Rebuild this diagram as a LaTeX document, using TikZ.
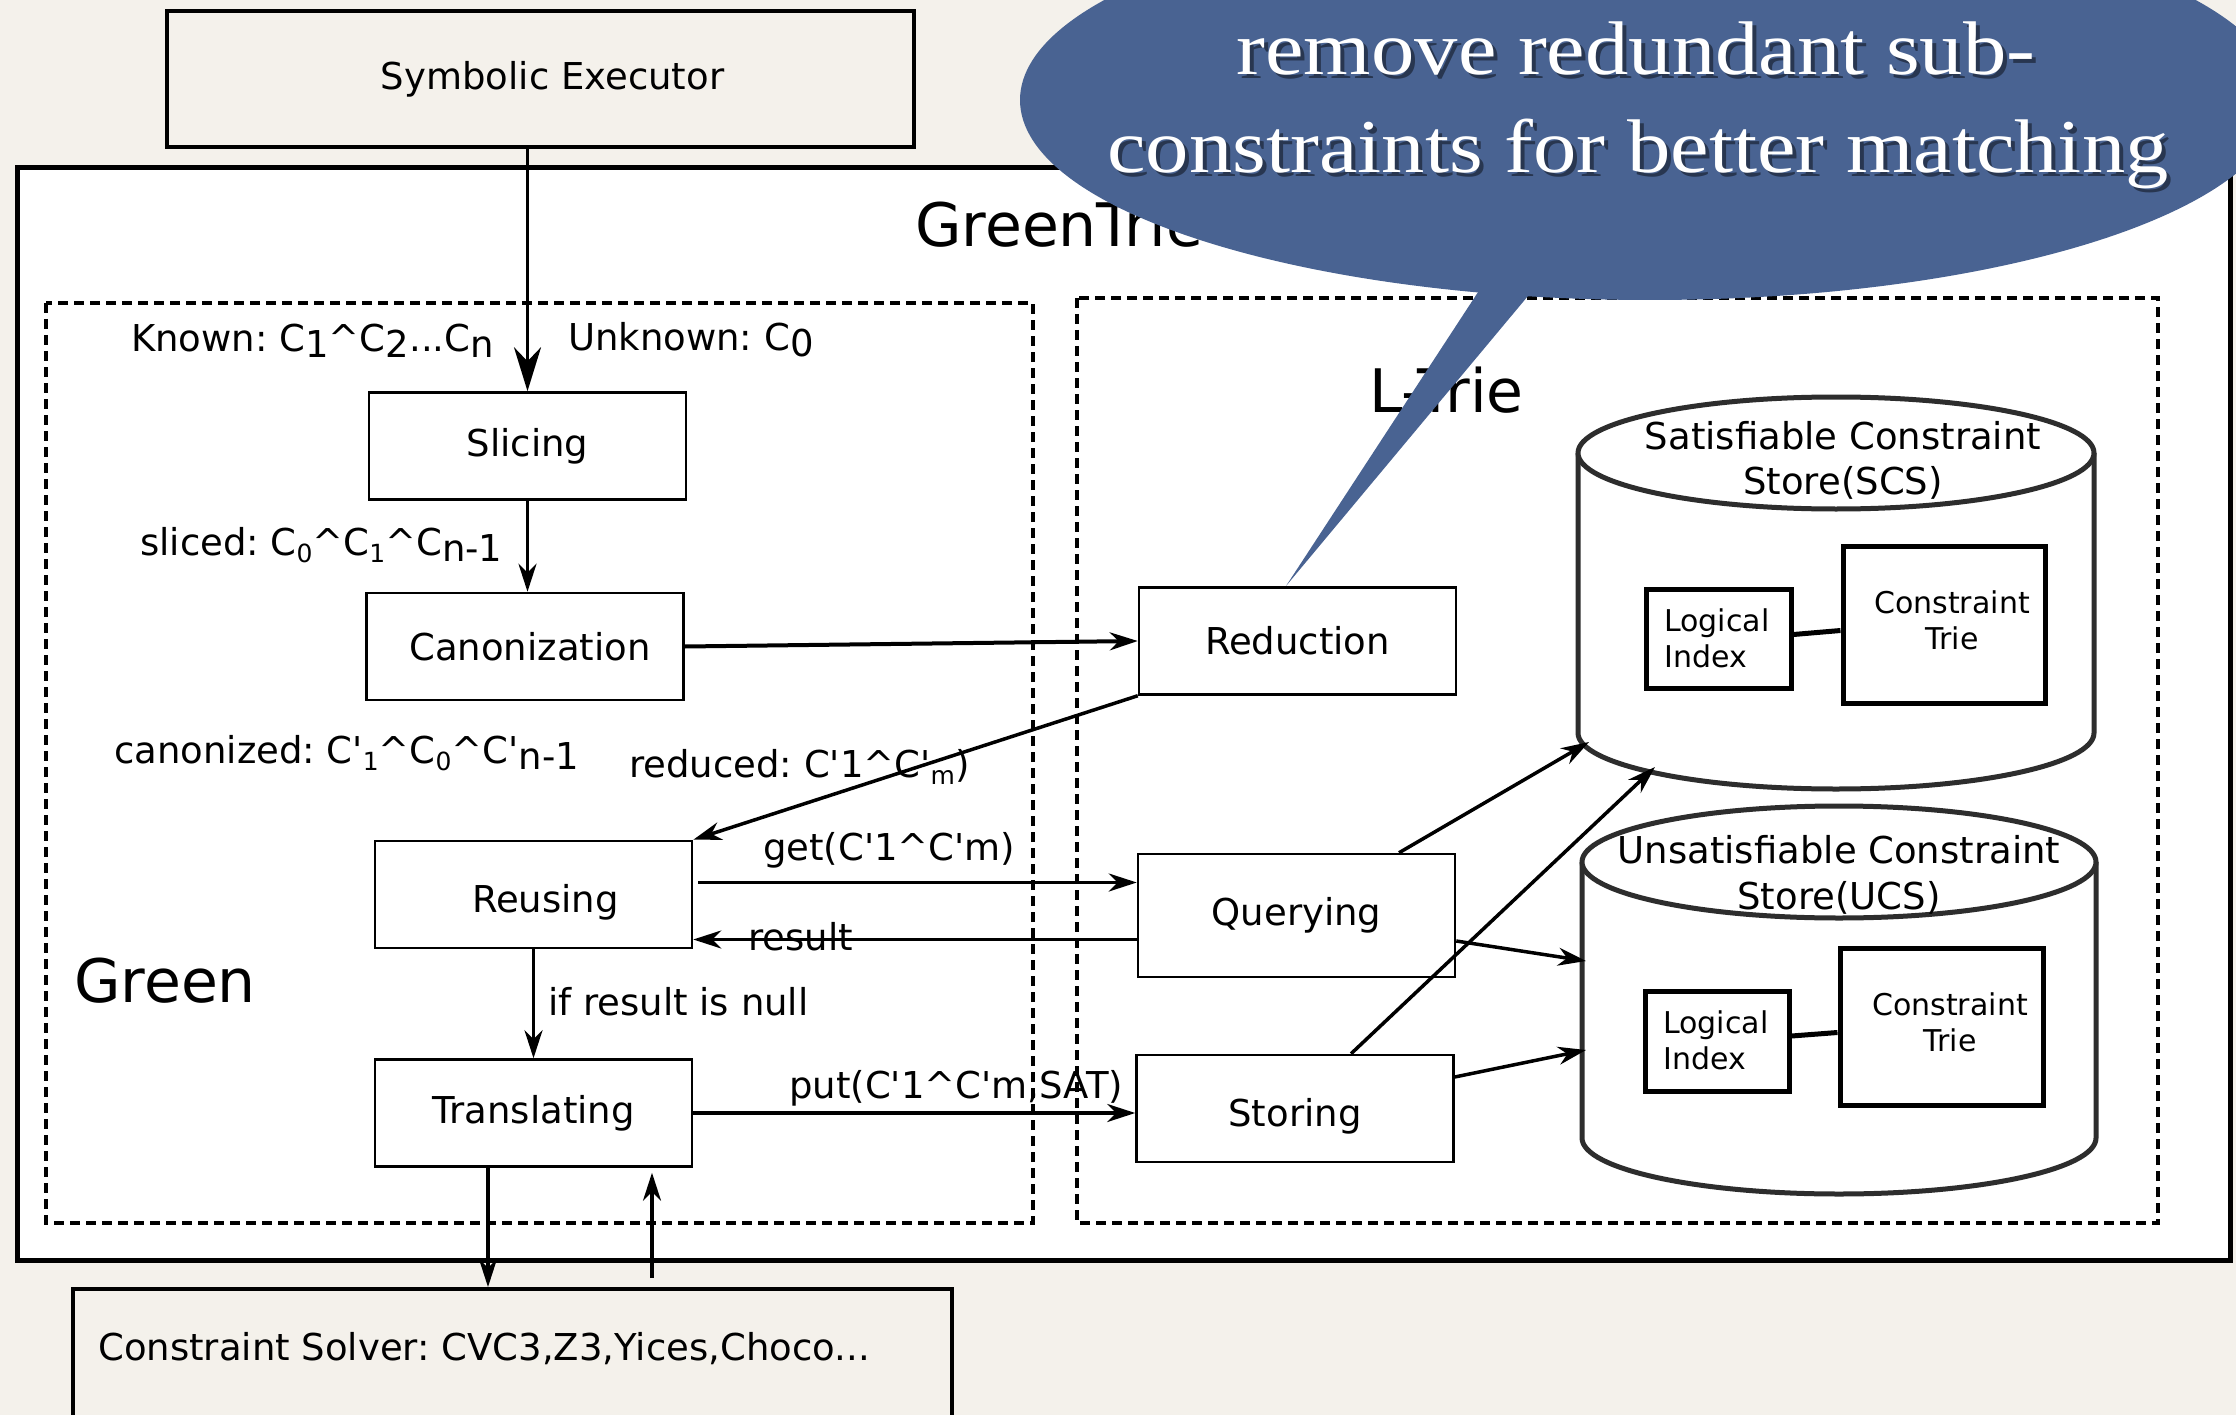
\documentclass[tikz,border=0pt]{standalone}
\usepackage{fontspec}
\setmainfont{DejaVu Sans}
\newfontfamily\calloutfont{Liberation Serif}[FakeStretch=1.14]
\usetikzlibrary{arrows.meta,calc}
\frenchspacing

\definecolor{paper}{RGB}{244,241,235}
\definecolor{bubble}{RGB}{73,99,146}
\definecolor{cylgray}{RGB}{45,45,45}

% index lowered at full size, and small lowered index
\newcommand{\lowtxt}[1]{\raisebox{-6pt}{#1}}
\newcommand{\smallsub}[1]{\raisebox{-7pt}{\fontsize{25}{25}\selectfont #1}}
\newcommand{\myq}{\textquotesingle}
\newcommand{\andop}{\textasciicircum}

\begin{document}
\begin{tikzpicture}[x=1pt,y=-1pt,
  every node/.style={inner sep=0pt, font=\fontsize{37}{44}\selectfont},
  proc/.style={draw, line width=2.5pt, fill=white, minimum width=317pt, minimum height=107pt},
  inbox/.style={draw, line width=5pt, fill=white},
  lbl/.style={anchor=base west},
  small/.style={font=\fontsize{30}{36}\selectfont},
  big/.style={font=\fontsize{60}{72}\selectfont},
  frame/.style={line width=4pt, dash pattern=on 10pt off 6pt},
  cyl/.style={line width=5pt, draw=cylgray},
  arr/.style={line width=3.5pt, -{Stealth[length=28pt,width=18pt,inset=9pt]}},
  bigarr/.style={line width=3.5pt, -{Stealth[length=44pt,width=27pt,inset=14pt]}},
  link/.style={line width=5pt},
  shadowtxt/.style={text=black, opacity=0.45}
]
\clip (0,0) rectangle (2236,1415);
\fill[paper] (0,0) rectangle (2236,1415);

% GreenTrie frame and its two dashed parts
\draw[line width=5pt, fill=white] (17,168) rectangle (2230,1260);
\draw[frame] (46,303) rectangle (1033,1223);
\draw[frame] (1077,298) rectangle (2158,1223);

\node[lbl, big] (gtlabel) at (915,247) {GreenTrie};
\node[lbl, big] (greenlabel) at (74,1002) {Green};
\node[lbl, big] (ltrielabel) at (1369,412) {L-Trie};

% outside components
\node[draw, line width=3.5pt, fill=paper, minimum width=747pt, minimum height=136pt] (se) at (540.5,79) {\hspace*{24pt}Symbolic Executor};
\node[draw, line width=4pt, fill=paper, minimum width=879pt, minimum height=220pt, anchor=north west] (solver) at (71,1287) {};
\node[lbl] (solvertxt) at (98,1360) {Constraint Solver: CVC3,Z3,Yices,Choco...};

% Green pipeline
\node[proc] (slicing) at (527.5,446) {Slicing};
\node[proc] (canon) at (525,646.5) {\hspace*{10pt}Canonization};
\node[proc] (reusing) at (533.5,894.5) {\hspace*{24pt}\rule{0pt}{44pt}Reusing};
\node[proc] (transl) at (533.5,1113) {Translating};

% L-Trie operations
\node[proc] (reduction) at (1297.5,641) {Reduction};
\node[proc, minimum height=123pt] (querying) at (1296.5,915.5) {Querying};
\node[proc] (storing) at (1295,1108.5) {\rule{0pt}{44pt}Storing};

% edge labels
\node[lbl] (known) at (131,352) {Known: C\lowtxt{1}\andop C\lowtxt{2}...C\lowtxt{n}};
\node[lbl] (unknown) at (568,350) {Unknown: C\lowtxt{0}};
\node[lbl] (sliced) at (140,555) {sliced: C\smallsub{0}\andop C\smallsub{1}\andop C\lowtxt{n-1}};
\node[lbl] (canonized) at (114,763) {canonized: C\myq\smallsub{1}\andop C\smallsub{0}\andop C\myq\lowtxt{n-1}};
\node[lbl] (reduced) at (629,777) {reduced: C\myq 1\andop C\myq\smallsub{m})};
\node[lbl] (getlbl) at (763,860) {get(C\myq 1\andop C\myq m)};
\node[lbl] (reslbl) at (748,950) {result};
\node[lbl] (nulllbl) at (548,1015) {if result is null};
\node[lbl] (putlbl) at (789,1098) {put(C\myq 1\andop C\myq m,SAT)};

% connectors of the pipeline
\draw[bigarr] (se.south -| slicing.north) -- (slicing.north);
\draw[arr] (slicing.south) -- (slicing.south |- canon.north);
\draw[arr, line width=4pt] (canon.east) -- (reduction.west);
\draw[arr] (reduction.south west) -- (reusing.north east);
\coordinate (getA) at ([xshift=5pt,yshift=12pt]reusing.east);
\draw[arr] (getA) -- (getA -| querying.west);
\coordinate (resA) at ([yshift=-24pt]querying.west);
\draw[arr] (resA) -- (resA -| reusing.east);
\draw[arr] (reusing.south) -- (transl.north);
\draw[arr] (transl.east) -- (transl.east -| storing.west);
\coordinate (tdown) at ([xshift=-45.5pt]transl.south);
\draw[arr] (tdown) -- (tdown |- solver.north);
\coordinate (tup) at ([xshift=118.5pt,yshift=-5pt]transl.south);
\coordinate (sup1) at ($(tup |- solver.north)+(0,-9)$);
\draw[arr] (sup1) -- (tup);

% constraint stores
\draw[cyl] (1578,453) -- (1578,733) arc[start angle=180,end angle=360,x radius=258pt,y radius=56pt] -- (2094,453);
\draw[cyl, fill=white] (1836,453) ellipse[x radius=258pt, y radius=56pt];
\node[anchor=base] (scs1) at (1843,449) {Satisfiable Constraint};
\node[anchor=base] (scs2) at (1843,494) {Store(SCS)};
\node[inbox, minimum width=145pt, minimum height=99pt] (li1) at (1718.5,638.5) {};
\node[inbox, minimum width=202pt, minimum height=157pt] (ct1) at (1944,624.5) {};
\draw[link] ([yshift=4pt]li1.east) -- ([yshift=-6pt]ct1.west);
\node[lbl, small] (li1a) at (1664,631) {Logical};
\node[lbl, small] (li1b) at (1664,667) {Index};
\node[anchor=base, small] (ct1a) at (1952,613) {Constraint};
\node[anchor=base, small] (ct1b) at (1952,649) {Trie};

\draw[cyl] (1582,862) -- (1582,1138) arc[start angle=180,end angle=360,x radius=257pt,y radius=56pt] -- (2096,862);
\draw[cyl, fill=white] (1839,862) ellipse[x radius=257pt, y radius=56pt];
\node[anchor=base] (ucs1) at (1839,863) {Unsatisfiable Constraint};
\node[anchor=base] (ucs2) at (1839,909) {Store(UCS)};
\node[inbox, minimum width=144pt, minimum height=100pt] (li2) at (1717,1041) {};
\node[inbox, minimum width=203pt, minimum height=157pt] (ct2) at (1941.5,1026.5) {};
\draw[link] ([yshift=5pt]li2.east) -- ([yshift=-6pt]ct2.west);
\node[lbl, small] (li2a) at (1663,1033) {Logical};
\node[lbl, small] (li2b) at (1663,1069) {Index};
\node[anchor=base, small] (ct2a) at (1950,1015) {Constraint};
\node[anchor=base, small] (ct2b) at (1950,1051) {Trie};

% store access
\coordinate (scsQ) at (1589,742);
\coordinate (scsS) at (1655,767);
\coordinate (ucsQ) at (1586,961);
\coordinate (ucsS) at (1586,1050);
\draw[arr] ([xshift=102.5pt]querying.north) -- (scsQ);
\draw[arr] ([xshift=56pt]storing.north) -- (scsS);
\draw[arr] ([yshift=-25.5pt]querying.east) -- (ucsQ);
\draw[arr] ([yshift=31.5pt]storing.east) -- (ucsS);

% callout
\fill[bubble] (1650,100) ellipse[x radius=630pt, y radius=200pt];
\fill[bubble] (1286,586) -- (1499,260) -- (1558,260) -- cycle;
\begin{scope}[every node/.style={inner sep=0pt, anchor=base, font=\calloutfont\fontsize{76}{90}\selectfont}]
\node[shadowtxt] (c1s) at (1640,79) {remove redundant sub-};
\node[shadowtxt] (c2s) at (1642,177) {constraints for better matching};
\node[text=white] (c1) at (1636,75) {remove redundant sub-};
\node[text=white] (c2) at (1638,173) {constraints for better matching};
\end{scope}
\end{tikzpicture}
\end{document}
